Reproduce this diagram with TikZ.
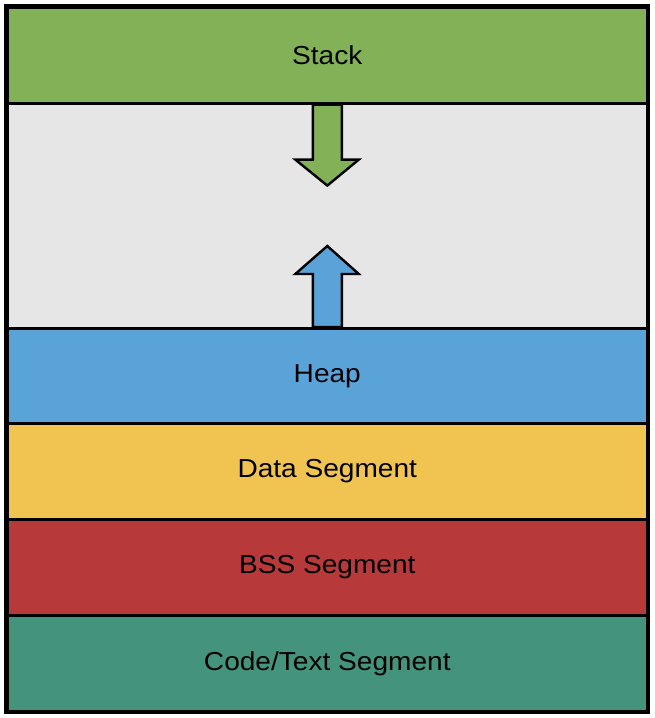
\documentclass[tikz,border=0pt]{standalone}
\usepackage{fontspec}
\setmainfont{Liberation Sans}
\definecolor{stackgreen}{HTML}{82B157}
\definecolor{freegray}{HTML}{E6E6E6}
\definecolor{heapblue}{HTML}{5AA3D8}
\definecolor{datayellow}{HTML}{F1C451}
\definecolor{bssred}{HTML}{B7393A}
\definecolor{codeteal}{HTML}{44937C}
\newcommand{\bandlabel}[1]{\scalebox{1.08}[1]{#1}}
\begin{document}
\begin{tikzpicture}[x=1pt,y=-1pt,
  band/.style={draw=black, line width=2.6pt, minimum width=640pt, inner sep=0pt, anchor=north west,
               font=\fontsize{26}{26}\selectfont},
  growarrow/.style={draw=black, line width=2.4pt, line join=miter}]
\useasboundingbox (0,0) rectangle (654,718);
% memory regions, top to bottom
\node[band, fill=freegray,   minimum height=225pt] (free)  at (6,102) {};
\node[band, fill=stackgreen, minimum height=96pt]  (stack) at (6,6)   {\bandlabel{Stack}};
\node[band, fill=heapblue,   minimum height=95pt]  (heap)  at (6,327) {\bandlabel{Heap}};
\node[band, fill=datayellow, minimum height=96pt]  (data)  at (6,422) {\bandlabel{Data Segment}};
\node[band, fill=bssred,     minimum height=96pt]  (bss)   at (6,518) {\bandlabel{BSS Segment}};
\node[band, fill=codeteal,   minimum height=96pt]  (code)  at (6,614) {\bandlabel{Code/Text Segment}};
% stack grows downward
\draw[growarrow, fill=stackgreen]
  ([xshift=-14.5pt]stack.south) -- ([xshift=14.5pt]stack.south) -- ++(0,55) -- ++(17,0)
  -- ([yshift=-81pt]stack.south) -- ([xshift=-32pt,yshift=-55pt]stack.south) -- ++(17.5,0) -- cycle;
% heap grows upward
\draw[growarrow, fill=heapblue]
  ([xshift=-14.5pt]heap.north) -- ([xshift=14.5pt]heap.north) -- ++(0,-53) -- ++(17,0)
  -- ([yshift=81pt]heap.north) -- ([xshift=-32pt,yshift=53pt]heap.north) -- ++(17.5,0) -- cycle;
% outer frame
\draw[line width=3.2pt] (stack.north west) rectangle (code.south east);
\end{tikzpicture}
\end{document}
